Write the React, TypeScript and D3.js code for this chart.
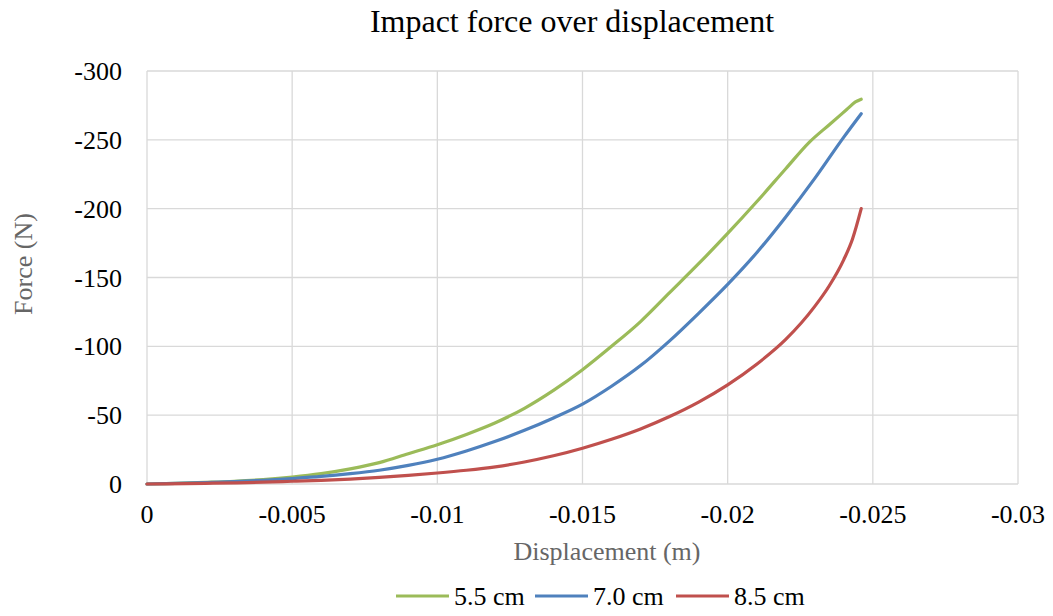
import React, { useEffect, useRef } from 'react';
import * as d3 from 'd3';

// displacement (m) and force (N)
const disp55 = [0, -0.001, -0.002, -0.003, -0.004, -0.005, -0.006, -0.007, -0.008, -0.009, -0.01, -0.011, -0.012, -0.013, -0.014, -0.015, -0.016, -0.017, -0.018, -0.019, -0.02, -0.021, -0.022, -0.0228, -0.0235, -0.0241, -0.0244, -0.0246];
const force55 = [0, -0.5, -1.2, -2, -3.2, -5, -7.5, -11, -15.5, -22, -28.5, -36, -44.5, -55, -68, -83, -100, -118, -139, -160, -182, -205, -229, -248, -261, -272, -277.5, -279.5];

const disp70 = [0, -0.001, -0.002, -0.003, -0.004, -0.005, -0.006, -0.007, -0.008, -0.009, -0.01, -0.011, -0.012, -0.013, -0.014, -0.015, -0.016, -0.017, -0.018, -0.019, -0.02, -0.021, -0.022, -0.023, -0.024, -0.0246];
const force70 = [0, -0.4, -1, -1.7, -2.7, -4, -5.5, -7.5, -10, -13.5, -18, -24, -31, -39, -48, -58, -71, -86, -104, -124, -145, -168, -194, -222, -252, -269];

const disp85 = [0, -0.002, -0.004, -0.005, -0.006, -0.007, -0.008, -0.009, -0.01, -0.011, -0.012, -0.013, -0.014, -0.015, -0.016, -0.017, -0.018, -0.019, -0.02, -0.021, -0.022, -0.023, -0.0235, -0.024, -0.0243, -0.0246];
const force85 = [0, -0.5, -1.3, -2, -2.7, -3.6, -4.8, -6.3, -8, -10, -12.5, -16, -20.5, -26, -32.5, -40, -49, -59.5, -72, -87, -105, -129, -144, -163, -178, -200];

const seriesNames = ['5.5 cm', '7.0 cm', '8.5 cm'];
const seriesColors = ['#9BBB59', '#4F81BD', '#C0504D'];
const xTicks = [0, -0.005, -0.01, -0.015, -0.02, -0.025, -0.03];
const yTicks = [0, -50, -100, -150, -200, -250, -300];

const W = 1053;
const H = 616;
const FONT = '"Liberation Serif", "Times New Roman", serif';

const App = () => {
  const svgRef = useRef<SVGSVGElement>(null);

  useEffect(() => {
    document.body.style.margin = '0';
    const svg = d3.select(svgRef.current);
    svg.selectAll('*').remove();

    const left = 147, right = 1018, top = 71, bottom = 484;

    const x = d3.scaleLinear().domain([0, -0.03]).range([left, right]);
    const y = d3.scaleLinear().domain([0, -300]).range([bottom, top]);

    // grid
    svg.append('g')
      .selectAll('line')
      .data(xTicks)
      .enter()
      .append('line')
      .attr('x1', d => x(d))
      .attr('x2', d => x(d))
      .attr('y1', top)
      .attr('y2', bottom)
      .attr('stroke', '#d9d9d9')
      .attr('stroke-width', 1.3);

    svg.append('g')
      .selectAll('line')
      .data(yTicks)
      .enter()
      .append('line')
      .attr('x1', left)
      .attr('x2', right)
      .attr('y1', d => y(d))
      .attr('y2', d => y(d))
      .attr('stroke', '#d9d9d9')
      .attr('stroke-width', 1.3);

    // tick labels
    svg.append('g')
      .selectAll('text')
      .data(yTicks)
      .enter()
      .append('text')
      .attr('x', 122)
      .attr('y', d => y(d) + 9)
      .attr('text-anchor', 'end')
      .style('font-family', FONT)
      .style('font-size', '26px')
      .style('fill', '#000')
      .text(d => String(d));

    svg.append('g')
      .selectAll('text')
      .data(xTicks)
      .enter()
      .append('text')
      .attr('x', d => x(d))
      .attr('y', 523)
      .attr('text-anchor', 'middle')
      .style('font-family', FONT)
      .style('font-size', '26px')
      .style('fill', '#000')
      .text(d => String(d));

    // lines
    const all = [
      disp55.map((d, i) => [d, force55[i]]),
      disp70.map((d, i) => [d, force70[i]]),
      disp85.map((d, i) => [d, force85[i]]),
    ];

    const line = d3.line<number[]>()
      .x(d => x(d[0]))
      .y(d => y(d[1]))
      .curve(d3.curveMonotoneX);

    all.forEach((pts, i) => {
      svg.append('path')
        .datum(pts)
        .attr('d', line)
        .attr('fill', 'none')
        .attr('stroke', seriesColors[i])
        .attr('stroke-width', 3.2)
        .attr('stroke-linecap', 'round');
    });

    // titles
    svg.append('text')
      .attr('x', 572)
      .attr('y', 32)
      .attr('text-anchor', 'middle')
      .style('font-family', FONT)
      .style('font-size', '32px')
      .style('fill', '#000')
      .text('Impact force over displacement');

    svg.append('text')
      .attr('x', 607)
      .attr('y', 560)
      .attr('text-anchor', 'middle')
      .style('font-family', FONT)
      .style('font-size', '26px')
      .style('fill', '#666')
      .text('Displacement (m)');

    svg.append('text')
      .attr('transform', 'translate(32,264) rotate(-90)')
      .attr('text-anchor', 'middle')
      .style('font-family', FONT)
      .style('font-size', '26px')
      .style('fill', '#666')
      .text('Force (N)');

    // legend
    const legendX = [396, 535, 676];
    const lg = svg.append('g');
    seriesNames.forEach((name, i) => {
      lg.append('line')
        .attr('x1', legendX[i])
        .attr('x2', legendX[i] + 53)
        .attr('y1', 596)
        .attr('y2', 596)
        .attr('stroke', seriesColors[i])
        .attr('stroke-width', 3.2);
      lg.append('text')
        .attr('x', legendX[i] + 58)
        .attr('y', 605)
        .style('font-family', FONT)
        .style('font-size', '26px')
        .style('fill', '#000')
        .text(name);
    });
  }, []);

  return <svg ref={svgRef} width={W} height={H} style={{ display: 'block', background: '#fff' }} />;
};

export default App;
